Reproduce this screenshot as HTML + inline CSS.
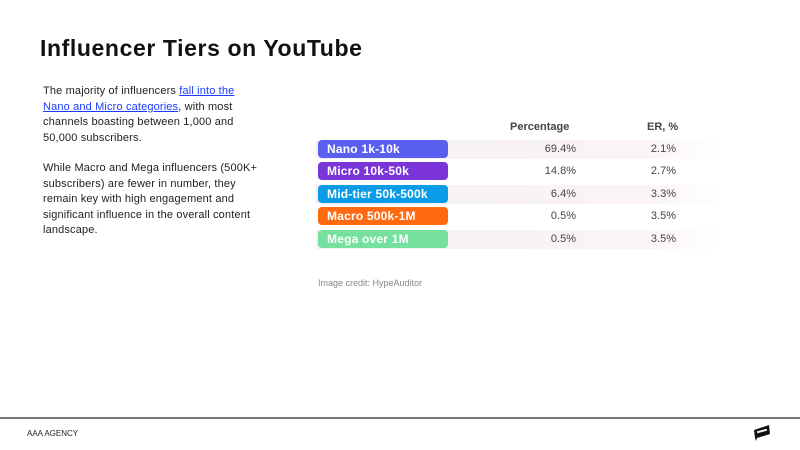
<!DOCTYPE html>
<html><head><style>
body{margin:0;width:800px;height:450px;background:#fff;position:relative;font-family:"Liberation Sans",sans-serif;overflow:hidden}
h1{position:absolute;left:40px;top:35px;margin:0;font-size:23px;font-weight:bold;color:#111;letter-spacing:0.6px}
.p{position:absolute;left:43px;width:218px;font-size:11px;line-height:15.5px;color:#222;letter-spacing:0.15px}
.p a{color:#1a3cff}
.row{position:absolute;left:316px;width:407px;height:19px;background:linear-gradient(90deg,#f3f0f6,#fbf4f4 80%,#fff)}
.row.w{background:#fff}
.pill{position:absolute;left:2px;top:0;width:130px;height:18px;border-radius:4px;color:#fff;font-size:12px;font-weight:bold;line-height:18px;padding-left:9px;box-sizing:border-box;letter-spacing:0.2px}
.v{position:absolute;top:0;line-height:18px;font-size:11px;color:#444;text-align:right}
.a{right:147px}.b{right:47px}
.hd{position:absolute;top:121px;font-size:11px;font-weight:bold;color:#444}
</style></head><body>
<h1>Influencer Tiers on YouTube</h1>
<div class="p" style="top:84px">The majority of influencers <a href="#">fall into the<br>Nano and Micro categories</a>, with most channels boasting between 1,000 and 50,000 subscribers.</div>
<div class="p" style="top:161px;width:225px">While Macro and Mega influencers (500K+ subscribers) are fewer in number, they remain key with high engagement and significant influence in the overall content landscape.</div>
<div class="hd" style="left:510px">Percentage</div>
<div class="hd" style="left:647px">ER, %</div>
<div class="row" style="top:140px"><div class="pill" style="background:#5b5ff0">Nano 1k-10k</div><div class="v a">69.4%</div><div class="v b">2.1%</div></div>
<div class="row w" style="top:162px"><div class="pill" style="background:#7b34d8">Micro 10k-50k</div><div class="v a">14.8%</div><div class="v b">2.7%</div></div>
<div class="row" style="top:185px"><div class="pill" style="background:#0a9be6">Mid-tier 50k-500k</div><div class="v a">6.4%</div><div class="v b">3.3%</div></div>
<div class="row w" style="top:207px"><div class="pill" style="background:#ff6a10">Macro 500k-1M</div><div class="v a">0.5%</div><div class="v b">3.5%</div></div>
<div class="row" style="top:230px"><div class="pill" style="background:#76e09e">Mega over 1M</div><div class="v a">0.5%</div><div class="v b">3.5%</div></div>
<div style="position:absolute;left:318px;top:278px;font-size:9px;color:#888">Image credit: HypeAuditor</div>
<div style="position:absolute;left:0;top:417px;width:800px;height:2px;background:#777"></div>
<div style="position:absolute;left:27px;top:429px;font-size:8px;color:#222">AAA AGENCY</div>
<svg style="position:absolute;left:752px;top:424px" width="20" height="18"><polygon points="2,6 17,1 18,10 5,14 4,17 3,14" fill="#111"/><rect x="5" y="6" width="10" height="2" fill="#fff" transform="rotate(-15 10 7)"/></svg>
</body></html>
